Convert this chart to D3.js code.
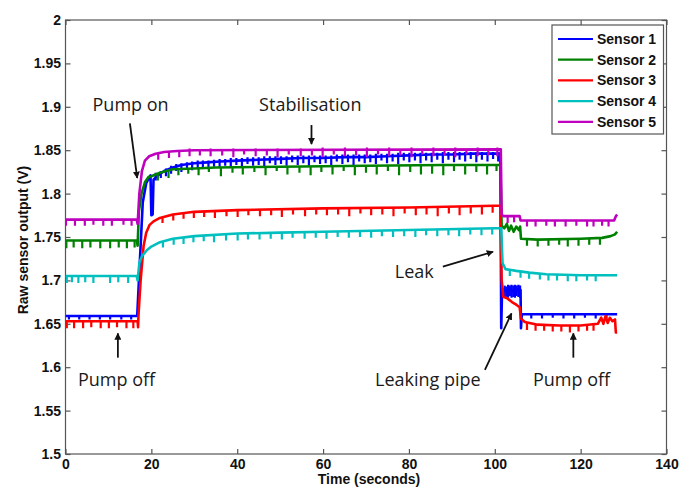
<!DOCTYPE html>
<html><head><meta charset="utf-8">
<script src="https://cdn.jsdelivr.net/npm/d3@7"></script>
<style>body{margin:0;background:#fff}svg{display:block}</style>
</head><body>
<script>
// ---------------- DATA ----------------
const seriesNames = ["Sensor 1","Sensor 2","Sensor 3","Sensor 4","Sensor 5"];
const seriesColors = ["#0000ff","#008000","#ff0000","#00bfbf","#bf00bf"];
const xTicks = [0,20,40,60,80,100,120,140];
const yTicks = [1.5,1.55,1.6,1.65,1.7,1.75,1.8,1.85,1.9,1.95,2];

// line points [time, volts]
const s1Line = [[0,1.659],[16.7,1.659],[17.3,1.72],[18.0,1.79],[18.8,1.812],[19.8,1.821],[20.0,1.775],[20.3,1.776],[20.5,1.816],[21.5,1.821],[23,1.826],[25,1.830],[27,1.833],[30,1.835],[33,1.836],[36,1.837],[40,1.838],[45,1.839],[50,1.840],[55,1.841],[60,1.841],[65,1.842],[70,1.842],[75,1.843],[80,1.844],[85,1.845],[90,1.845],[95,1.846],[101.3,1.846],[101.5,1.645],[101.7,1.690],[102.5,1.688],[103.5,1.691],[104.5,1.686],[105.5,1.690],[106.0,1.689],[106.1,1.645],[106.3,1.661],[115,1.661],[128.5,1.661]];
const s2Line = [[0,1.746],[16.6,1.746],[16.8,1.740],[17.1,1.780],[17.7,1.800],[18.5,1.813],[19.3,1.819],[20,1.820],[22,1.824],[25,1.828],[30,1.829],[35,1.830],[50,1.831],[70,1.832],[88,1.833],[101.3,1.833],[101.6,1.763],[102.2,1.760],[102.8,1.765],[103.3,1.757],[103.8,1.763],[104.4,1.756],[105.0,1.762],[105.6,1.758],[105.9,1.762],[106.1,1.748],[110,1.747],[120,1.748],[125,1.749],[127,1.751],[128,1.753],[128.5,1.756]];
const s3Line = [[0,1.653],[16.8,1.653],[16.9,1.646],[17.0,1.660],[17.5,1.700],[18.2,1.740],[18.8,1.755],[19.6,1.764],[20.5,1.768],[22,1.772],[25,1.776],[30,1.779],[40,1.781],[60,1.783],[80,1.784],[100,1.786],[101.3,1.786],[101.6,1.700],[102,1.681],[103,1.679],[104,1.675],[105,1.672],[105.8,1.669],[106.1,1.656],[107,1.652],[110,1.649],[115,1.648],[120,1.648],[124,1.650],[124.8,1.657],[125.3,1.650],[125.8,1.659],[126.3,1.651],[126.8,1.657],[127.4,1.653],[128.0,1.655],[128.2,1.640],[128.5,1.640]];
const s4Line = [[0,1.705],[16.6,1.705],[16.8,1.700],[17.2,1.720],[17.8,1.728],[19,1.735],[20,1.739],[22,1.744],[25,1.748],[30,1.751],[40,1.754],[50,1.755],[60,1.756],[80,1.758],[100,1.760],[101.5,1.760],[101.8,1.720],[102.5,1.713],[105,1.711],[108,1.709],[112,1.707],[120,1.706],[128.5,1.706]];
const s5Line = [[0,1.770],[16.6,1.770],[16.8,1.765],[17.2,1.800],[17.8,1.826],[18.5,1.838],[19.5,1.843],[21,1.846],[23,1.848],[26,1.849],[30,1.850],[101.4,1.851],[101.6,1.776],[102,1.774],[105.8,1.774],[106,1.769],[127.8,1.769],[128.2,1.774],[128.5,1.776]];

// downward glitches [time, top, bottom]
const s1Spikes = [[0.8,1.660,1.655],[3.2,1.660,1.655],[5.6,1.660,1.655],[8.0,1.660,1.655],[10.4,1.660,1.655],[13.0,1.660,1.655],[15.3,1.660,1.655],
[21.0,1.824,1.815],[22.2,1.826,1.818],[23.4,1.829,1.820],[24.6,1.832,1.823],[25.8,1.834,1.826],[27.0,1.835,1.825],[28.3,1.836,1.828],[29.5,1.837,1.827],[30.8,1.838,1.829],[32.0,1.838,1.830],[33.3,1.838,1.828],[34.6,1.839,1.831],[35.9,1.840,1.830],[37.2,1.840,1.832],[38.5,1.841,1.830],[39.8,1.841,1.833],[41.1,1.841,1.831],[42.4,1.842,1.834],[43.7,1.842,1.832],[45.0,1.842,1.833],[46.3,1.843,1.831],[47.6,1.843,1.835],[48.9,1.843,1.833],[50.2,1.843,1.834],[51.5,1.843,1.832],[52.8,1.844,1.836],[54.1,1.844,1.833],[55.4,1.844,1.835],[56.7,1.844,1.832],[58.0,1.844,1.836],[59.3,1.844,1.834],[60.6,1.844,1.835],[61.9,1.844,1.833],[63.2,1.845,1.837],[64.5,1.845,1.834],[65.8,1.845,1.836],[67.1,1.845,1.833],[68.4,1.845,1.837],[69.7,1.845,1.835],[71.0,1.845,1.836],[72.3,1.846,1.834],[73.6,1.846,1.838],[74.9,1.846,1.835],[76.2,1.846,1.837],[77.5,1.847,1.834],[78.8,1.847,1.838],[80.1,1.847,1.836],[81.4,1.847,1.838],[82.7,1.847,1.835],[84.0,1.847,1.838],[85.3,1.847,1.836],[86.6,1.847,1.839],[87.9,1.848,1.835],[89.2,1.848,1.839],[90.5,1.848,1.836],[91.8,1.848,1.839],[93.1,1.848,1.837],[94.4,1.848,1.840],[95.7,1.848,1.836],[97.0,1.848,1.839],[98.3,1.848,1.837],[99.6,1.848,1.840],[100.8,1.848,1.837],
[102.3,1.694,1.680],[102.7,1.693,1.681],[103.1,1.695,1.680],[103.5,1.694,1.682],[103.9,1.695,1.680],[104.3,1.694,1.681],[104.7,1.695,1.680],[105.1,1.694,1.682],[105.5,1.695,1.681],[105.9,1.694,1.680],
[108.5,1.661,1.656],[111.0,1.661,1.656],[113.5,1.661,1.657],[116.0,1.661,1.656],[118.5,1.661,1.656],[121.0,1.661,1.657],[123.5,1.661,1.656],[126.0,1.661,1.656]];
const s2Spikes = [[0.2,1.746,1.737],[1.9,1.746,1.738],[3.9,1.746,1.737],[5.8,1.746,1.738],[8.1,1.746,1.737],[10.4,1.746,1.737],[12.4,1.746,1.738],[14.3,1.746,1.737],[16.1,1.746,1.738],
[21.5,1.823,1.815],[24.0,1.826,1.818],[26.3,1.828,1.821],[28.6,1.829,1.823],[31.0,1.829,1.821],[33.4,1.830,1.825],[36.2,1.830,1.820],[38.9,1.830,1.824],[41.3,1.830,1.822],[44.0,1.830,1.825],[46.6,1.830,1.821],[49.2,1.831,1.826],[51.7,1.831,1.822],[54.5,1.831,1.824],[57.1,1.831,1.821],[59.6,1.831,1.825],[62.2,1.831,1.822],[64.8,1.831,1.826],[67.4,1.831,1.821],[70.0,1.832,1.824],[72.5,1.832,1.822],[75.1,1.832,1.826],[77.7,1.832,1.821],[80.3,1.832,1.825],[82.8,1.832,1.822],[85.4,1.832,1.823],[88.0,1.833,1.821],[90.5,1.833,1.826],[93.1,1.833,1.822],[95.7,1.833,1.825],[98.2,1.833,1.822],[100.4,1.833,1.826],
[107.5,1.747,1.740],[110.0,1.747,1.739],[112.5,1.747,1.740],[115.0,1.748,1.741],[117.0,1.748,1.739],[119.5,1.748,1.740],[122.0,1.748,1.741],[124.5,1.749,1.741]];
const s3Spikes = [[0.3,1.653,1.645],[2.0,1.653,1.645],[4.1,1.653,1.645],[6.0,1.653,1.646],[8.2,1.653,1.645],[10.1,1.653,1.645],[12.0,1.653,1.646],[14.2,1.653,1.645],[15.8,1.653,1.645],
[22.6,1.773,1.766],[25.1,1.776,1.769],[27.5,1.778,1.771],[29.9,1.779,1.772],[32.3,1.780,1.773],[34.8,1.780,1.772],[37.5,1.781,1.774],[40.1,1.781,1.773],[42.6,1.781,1.775],[45.3,1.782,1.774],[47.9,1.782,1.775],[50.4,1.782,1.773],[53.0,1.782,1.776],[55.8,1.783,1.774],[58.4,1.783,1.776],[60.9,1.783,1.775],[63.5,1.783,1.776],[66.1,1.783,1.774],[68.7,1.784,1.777],[71.2,1.784,1.775],[73.8,1.784,1.776],[76.4,1.784,1.774],[79.0,1.784,1.777],[81.6,1.784,1.775],[84.1,1.785,1.776],[86.7,1.785,1.774],[89.3,1.785,1.777],[91.8,1.785,1.775],[94.4,1.785,1.777],[97.0,1.786,1.776],[99.5,1.786,1.778],
[107.5,1.651,1.643],[109.5,1.649,1.642],[111.5,1.649,1.642],[113.5,1.648,1.641],[115.5,1.648,1.641],[117.5,1.648,1.640],[119.5,1.648,1.641],[121.5,1.649,1.642],[123.0,1.649,1.642]];
const s4Spikes = [[0.3,1.705,1.697],[1.5,1.705,1.698],[3.0,1.705,1.697],[4.6,1.705,1.698],[6.5,1.705,1.697],[10.4,1.705,1.697],[12.3,1.705,1.698],[14.6,1.705,1.697],
[22.7,1.745,1.738],[25.2,1.748,1.741],[27.5,1.750,1.742],[29.8,1.751,1.744],[32.2,1.752,1.745],[34.6,1.752,1.744],[37.4,1.753,1.746],[40.1,1.754,1.746],[42.5,1.754,1.747],[45.2,1.755,1.747],[47.8,1.755,1.748],[50.4,1.755,1.747],[52.9,1.755,1.749],[55.7,1.756,1.748],[58.3,1.756,1.749],[60.8,1.756,1.748],[63.4,1.756,1.750],[66.0,1.757,1.749],[68.6,1.757,1.750],[71.2,1.757,1.749],[73.7,1.757,1.751],[76.3,1.758,1.750],[78.9,1.758,1.751],[81.5,1.758,1.750],[84.0,1.759,1.752],[86.6,1.759,1.751],[89.2,1.759,1.752],[91.7,1.759,1.751],[94.3,1.760,1.753],[96.9,1.760,1.752],[99.4,1.760,1.753],
[103.5,1.712,1.705],[106.0,1.710,1.703],[108.0,1.709,1.702],[110.5,1.708,1.701],[112.5,1.707,1.700],[114.5,1.707,1.700],[117.0,1.706,1.699],[119.0,1.706,1.699],[121.5,1.706,1.700],[123.5,1.706,1.699]];
const s5Spikes = [[0.1,1.770,1.763],[2.2,1.770,1.763],[4.5,1.770,1.763],[6.5,1.770,1.764],[8.8,1.770,1.763],[10.8,1.770,1.763],[13.5,1.770,1.764],[15.4,1.770,1.763],
[21.6,1.846,1.839],[24.1,1.848,1.841],[26.5,1.849,1.842],[28.9,1.852,1.843],[31.3,1.850,1.844],[33.8,1.852,1.843],[36.5,1.850,1.844],[39.1,1.852,1.842],[41.6,1.850,1.845],[44.3,1.852,1.843],[46.9,1.850,1.844],[49.4,1.852,1.842],[52.0,1.850,1.845],[54.8,1.852,1.843],[57.4,1.851,1.844],[59.9,1.853,1.842],[62.5,1.851,1.845],[65.1,1.853,1.843],[67.7,1.851,1.844],[70.2,1.853,1.842],[72.8,1.851,1.845],[75.4,1.853,1.843],[78.0,1.851,1.844],[80.6,1.853,1.842],[83.1,1.851,1.845],[85.7,1.853,1.843],[88.3,1.851,1.844],[90.8,1.853,1.842],[93.4,1.851,1.845],[96.0,1.853,1.843],[98.5,1.851,1.844],[100.6,1.853,1.843],
[103.0,1.774,1.766],[104.5,1.774,1.767],[107.5,1.769,1.762],[109.5,1.769,1.762],[112.0,1.769,1.763],[114.0,1.769,1.762],[116.5,1.769,1.762],[119.0,1.769,1.763],[121.5,1.769,1.762],[123.0,1.769,1.762],[125.0,1.769,1.763],[126.5,1.769,1.762]];

const lines = [s1Line,s2Line,s3Line,s4Line,s5Line];
const spikes = [s1Spikes,s2Spikes,s3Spikes,s4Spikes,s5Spikes];

// ---------------- DRAW ----------------
const W = 679, H = 491;
const x = d3.scaleLinear().domain([0,140]).range([65.5,666.5]);
const y = d3.scaleLinear().domain([1.5,2]).range([454,20]);

const svg = d3.select("body").append("svg").attr("width",W).attr("height",H);
svg.append("rect").attr("width",W).attr("height",H).attr("fill","#fff");

const axisFont = "'Liberation Sans', Arial, sans-serif";
const annFont = "'Open Sans', sans-serif";

// plot frame
svg.append("rect").attr("x",x(0)).attr("y",y(2)).attr("width",x(140)-x(0)).attr("height",y(1.5)-y(2))
  .attr("fill","none").attr("stroke","#555").attr("stroke-width",1.2);

function styleAxis(g, labels){
  g.select(".domain").remove();
  g.selectAll(".tick line").attr("stroke","#555").attr("stroke-width",1.2);
  g.selectAll(".tick text").attr("font-family",axisFont).attr("font-size",14).attr("font-weight","bold").attr("fill","#111");
  if(!labels) g.selectAll(".tick text").remove();
}
svg.append("g").attr("transform",`translate(0,${y(1.5)})`)
  .call(d3.axisBottom(x).tickValues(xTicks).tickSize(-5).tickPadding(5).tickFormat(d3.format("d"))).call(g=>styleAxis(g,true));
svg.append("g").attr("transform",`translate(0,${y(2)})`)
  .call(d3.axisTop(x).tickValues(xTicks).tickSize(-5)).call(g=>styleAxis(g,false));
svg.append("g").attr("transform",`translate(${x(0)},0)`)
  .call(d3.axisLeft(y).tickValues(yTicks).tickSize(-5).tickPadding(4.5).tickFormat(d=>String(+d.toFixed(2)))).call(g=>styleAxis(g,true));
svg.append("g").attr("transform",`translate(${x(140)},0)`)
  .call(d3.axisRight(y).tickValues(yTicks).tickSize(-5)).call(g=>styleAxis(g,false));

// axis titles
svg.append("text").attr("x",(x(0)+x(140))/2+3).attr("y",484).attr("text-anchor","middle")
  .attr("font-family",axisFont).attr("font-size",14).attr("font-weight","bold").attr("fill","#111").text("Time (seconds)");
svg.append("text").attr("transform",`translate(28,${y(1.75)+3}) rotate(-90)`).attr("text-anchor","middle")
  .attr("font-family",axisFont).attr("font-size",14).attr("font-weight","bold").attr("fill","#111").text("Raw sensor output (V)");

// series
svg.append("clipPath").attr("id","clip").append("rect")
  .attr("x",x(0)).attr("y",y(2)).attr("width",x(140)-x(0)).attr("height",y(1.5)-y(2));
const plot = svg.append("g").attr("clip-path","url(#clip)");
const lineGen = d3.line().x(d=>x(d[0])).y(d=>y(d[1]));
lines.forEach((pts,i)=>{
  const g = plot.append("g");
  g.append("path").attr("d",lineGen(pts)).attr("fill","none").attr("stroke",seriesColors[i])
    .attr("stroke-width",2.6).attr("stroke-linejoin","round");
  g.selectAll("line.spk").data(spikes[i]).join("line").attr("class","spk")
    .attr("x1",d=>x(d[0])).attr("x2",d=>x(d[0])).attr("y1",d=>y(d[1])).attr("y2",d=>y(d[2]))
    .attr("stroke",seriesColors[i]).attr("stroke-width",2.2);
});

// legend
const lg = svg.append("g");
lg.append("rect").attr("x",552).attr("y",25).attr("width",111.5).attr("height",109).attr("fill","#fff").attr("stroke","#555").attr("stroke-width",1.2);
seriesNames.forEach((n,i)=>{
  const yy = 39 + i*20.7;
  lg.append("line").attr("x1",558).attr("x2",593).attr("y1",yy).attr("y2",yy).attr("stroke",seriesColors[i]).attr("stroke-width",2.2);
  lg.append("text").attr("x",597).attr("y",yy+5).attr("font-family",axisFont).attr("font-size",14).attr("font-weight","bold").attr("fill","#111").text(n);
});

// annotations
const defs = svg.append("defs");
defs.append("marker").attr("id","ah").attr("viewBox","0 0 10 10").attr("refX",9).attr("refY",5)
  .attr("markerWidth",7).attr("markerHeight",7).attr("markerUnits","userSpaceOnUse").attr("orient","auto")
  .append("path").attr("d","M0,0 L10,5 L0,10 z").attr("fill","#111");
function arrow(t1,v1,t2,v2){
  svg.append("line").attr("x1",x(t1)).attr("y1",y(v1)).attr("x2",x(t2)).attr("y2",y(v2))
    .attr("stroke","#111").attr("stroke-width",1.8).attr("marker-end","url(#ah)");
}
function label(t,v,txt){
  svg.append("text").attr("x",x(t)).attr("y",y(v)).attr("font-family",annFont).attr("font-size",18).attr("fill","#1a1a1a").text(txt);
}
label(6.3,1.895,"Pump on");       arrow(15.0,1.881,16.7,1.818);
label(45.1,1.8946,"Stabilisation"); arrow(57.3,1.879,57.3,1.857);
label(2.9,1.578,"Pump off");      arrow(12.2,1.611,12.2,1.639);
label(76.7,1.703,"Leak");         arrow(87.9,1.716,99.6,1.733);
label(72.1,1.578,"Leaking pipe"); arrow(97.7,1.597,103.9,1.662);
label(108.9,1.578,"Pump off");    arrow(118.3,1.611,118.3,1.639);
</script>
</body></html>
